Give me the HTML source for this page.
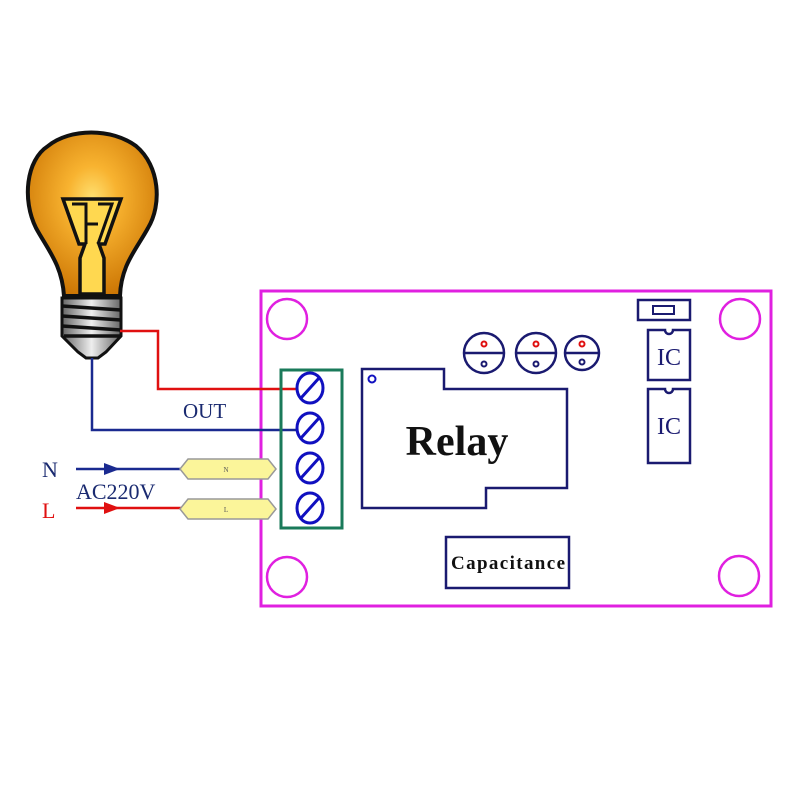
<!DOCTYPE html>
<html><head><meta charset="utf-8"><style>html,body{margin:0;padding:0;background:#fff}svg{display:block}</style></head>
<body>
<svg width="800" height="800" viewBox="0 0 800 800" xmlns="http://www.w3.org/2000/svg">
<defs>
<radialGradient id="g" cx="0.5" cy="0.4" r="0.65">
<stop offset="0" stop-color="#ffe070"/><stop offset="0.3" stop-color="#f8b330"/><stop offset="1" stop-color="#c87000"/>
</radialGradient>
<linearGradient id="b" x1="0" x2="1"><stop offset="0" stop-color="#666"/><stop offset="0.5" stop-color="#eee"/><stop offset="1" stop-color="#666"/></linearGradient>
</defs>
<!-- bulb -->
<path d="M64,296 C62,265 48,250 36,228 C22,200 26,160 48,146 C70,128 112,128 136,146 C160,166 162,205 148,228 C136,250 121,265 120,296 Z" fill="url(#g)" stroke="#111" stroke-width="4"/>
<path d="M63,199 L121,199 L105,244 L99,244 L104,258 L104,294 L80,294 L80,258 L85,244 L79,244 Z" fill="#ffd850" stroke="#111" stroke-width="3.5"/>
<path d="M72,204 L86,204 L86,244 M98,204 L112,204 L98,244 M86,224 L98,224" fill="none" stroke="#111" stroke-width="3"/>
<path d="M62,298 L121,298 L121,336 L106,352 L98,358 L86,358 L78,352 L62,336 Z" fill="url(#b)" stroke="#111" stroke-width="3"/>
<g stroke="#111" stroke-width="3.5"><line x1="62" y1="306" x2="121" y2="310"/><line x1="62" y1="316" x2="121" y2="320"/><line x1="62" y1="326" x2="121" y2="330"/><line x1="64" y1="336" x2="120" y2="336"/></g>
<!-- board -->
<rect x="261" y="291" width="510" height="315" fill="none" stroke="#e020e0" stroke-width="3"/>
<g fill="none" stroke="#e020e0" stroke-width="2.5"><circle cx="287" cy="319" r="20"/><circle cx="740" cy="319" r="20"/><circle cx="287" cy="577" r="20"/><circle cx="739" cy="576" r="20"/></g>
<!-- wires -->
<path d="M120,331 L158,331 L158,389 L297,389" fill="none" stroke="#e01010" stroke-width="2.5"/>
<path d="M92,358 L92,430 L297,430" fill="none" stroke="#1a2a90" stroke-width="2.5"/>
<!-- terminal -->
<rect x="281" y="370" width="61" height="158" fill="none" stroke="#1a7a5a" stroke-width="3"/>
<g fill="none" stroke="#1010c0" stroke-width="3">
<ellipse cx="310" cy="388" rx="13" ry="15"/><line x1="301" y1="398" x2="319" y2="378"/>
<ellipse cx="310" cy="428" rx="13" ry="15"/><line x1="301" y1="438" x2="319" y2="418"/>
<ellipse cx="310" cy="468" rx="13" ry="15"/><line x1="301" y1="478" x2="319" y2="458"/>
<ellipse cx="310" cy="508" rx="13" ry="15"/><line x1="301" y1="518" x2="319" y2="498"/>
</g>
<text x="183" y="418" font-family="Liberation Serif, serif" font-size="21" fill="#1a2a70">OUT</text>
<!-- N / L -->
<text x="42" y="477" font-family="Liberation Serif, serif" font-size="22" fill="#1a2a70">N</text>
<text x="42" y="518" font-family="Liberation Serif, serif" font-size="22" fill="#e01010">L</text>
<text x="76" y="499" font-family="Liberation Serif, serif" font-size="22" fill="#1a2a70">AC220V</text>
<line x1="76" y1="469" x2="182" y2="469" stroke="#1a2a90" stroke-width="2.5"/>
<path d="M104,463 L120,469 L104,475 Z" fill="#1a2a90"/>
<line x1="76" y1="508" x2="182" y2="508" stroke="#e01010" stroke-width="2.5"/>
<path d="M104,502 L120,508 L104,514 Z" fill="#e01010"/>
<path d="M180,469 L188,459 L268,459 L276,469 L268,479 L188,479 Z" fill="#fbf59a" stroke="#999" stroke-width="1.5"/>
<path d="M180,509 L188,499 L268,499 L276,509 L268,519 L188,519 Z" fill="#fbf59a" stroke="#999" stroke-width="1.5"/>
<text x="226" y="472" font-family="Liberation Serif, serif" font-size="7" fill="#555" text-anchor="middle">N</text>
<text x="226" y="512" font-family="Liberation Serif, serif" font-size="7" fill="#555" text-anchor="middle">L</text>
<!-- relay -->
<path d="M362,369 L444,369 L444,389 L567,389 L567,488 L486,488 L486,508 L362,508 Z" fill="none" stroke="#1a1a70" stroke-width="2.5"/>
<circle cx="372" cy="379" r="3.5" fill="none" stroke="#1010c0" stroke-width="2"/>
<text x="457" y="455" font-family="Liberation Serif, serif" font-size="42" font-weight="bold" fill="#111" text-anchor="middle">Relay</text>
<!-- small caps -->
<g fill="none" stroke="#1a1a70" stroke-width="2.5">
<circle cx="484" cy="353" r="20"/><line x1="464" y1="353" x2="504" y2="353"/>
<circle cx="536" cy="353" r="20"/><line x1="516" y1="353" x2="556" y2="353"/>
<circle cx="582" cy="353" r="17"/><line x1="565" y1="353" x2="599" y2="353"/>
</g>
<g fill="none" stroke-width="2"><circle cx="484" cy="344" r="2.5" stroke="#e01010"/><circle cx="536" cy="344" r="2.5" stroke="#e01010"/><circle cx="582" cy="344" r="2.5" stroke="#e01010"/>
<circle cx="484" cy="364" r="2.5" stroke="#1a1a70"/><circle cx="536" cy="364" r="2.5" stroke="#1a1a70"/><circle cx="582" cy="362" r="2.5" stroke="#1a1a70"/></g>
<!-- switch & ICs -->
<rect x="638" y="300" width="52" height="20" fill="none" stroke="#1a1a70" stroke-width="2.5"/>
<rect x="653" y="306" width="21" height="8" fill="none" stroke="#1a1a70" stroke-width="2"/>
<path d="M648,330 L665,330 A4,4 0 0 0 673,330 L690,330 L690,380 L648,380 Z" fill="none" stroke="#1a1a70" stroke-width="2.5"/>
<path d="M648,389 L665,389 A4,4 0 0 0 673,389 L690,389 L690,463 L648,463 Z" fill="none" stroke="#1a1a70" stroke-width="2.5"/>
<text x="669" y="365" font-family="Liberation Serif, serif" font-size="24" fill="#1a1a70" text-anchor="middle">IC</text>
<text x="669" y="434" font-family="Liberation Serif, serif" font-size="24" fill="#1a1a70" text-anchor="middle">IC</text>
<!-- capacitance -->
<rect x="446" y="537" width="123" height="51" fill="none" stroke="#1a1a70" stroke-width="2.5"/>
<text x="508" y="569" font-family="Liberation Serif, serif" font-size="19" font-weight="bold" fill="#111" text-anchor="middle" textLength="114">Capacitance</text>
</svg>
</body></html>
